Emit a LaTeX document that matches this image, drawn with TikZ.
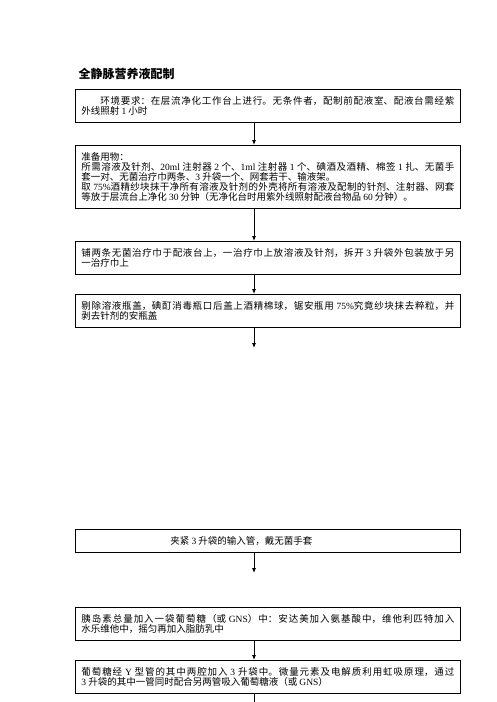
\documentclass[tikz,border=0pt]{standalone}
\usepackage{fontspec}
\setmainfont{Noto Sans CJK SC}
\newfontfamily\enfont{Liberation Serif}
\newcommand{\en}[1]{{\enfont #1}}
\newcommand{\boxfont}{\fontsize{9.5}{10}\selectfont\lineskiplimit=-10pt\relax}
\usepackage{tikz}
\usetikzlibrary{arrows.meta, positioning}
\XeTeXlinebreaklocale "zh"
\XeTeXlinebreakskip=0pt plus 1.5pt
\tolerance=9999

\begin{document}
\begin{tikzpicture}[
            x=1pt, y=-1pt,
            stepbox/.style={draw, line width=0.8pt, anchor=north west, text width=373pt,
                inner xsep=6pt, inner ysep=7pt, align=justify, font=\boxfont},
            flow/.style={->, line width=0.8pt},
            >={Latex[length=5pt, width=4pt]}
        ]
        \useasboundingbox (0,0) rectangle (496,702);

        \coordinate (axis) at (254,0);
        \coordinate (e1) at (254,348);
        \coordinate (e2) at (254,573);
        \coordinate (e3) at (254,702);

        \node[anchor=base west, font=\fontsize{12}{12}\selectfont\bfseries] (title) at (75,78) {全静脉营养液配制};

        \node[stepbox] (env) at (75,89) {\hspace*{2em}环境要求：在层流净化工作台上进行。无条件者，配制前配液室、配液台需经紫\linebreak 外线照射 \en{1} 小时};
        \node[stepbox] (prep) at (75,145) {准备用物：\\ 所需溶液及针剂、\en{20ml} 注射器 \en{2} 个、\en{1ml} 注射器 \en{1} 个、碘酒及酒精、棉签 \en{1} 扎、无菌手\linebreak 套一对、无菌治疗巾两条、\en{3} 升袋一个、网套若干、输液架。\\ 取 \en{75\%}酒精纱块抹干净所有溶液及针剂的外壳将所有溶液及配制的针剂、注射器、网套\linebreak 等放于层流台上净化 \en{30} 分钟（无净化台时用紫外线照射配液台物品 \en{60} 分钟）。};
        \node[stepbox] (lay) at (75,241) {铺两条无菌治疗巾于配液台上，一治疗巾上放溶液及针剂，拆开 \en{3} 升袋外包装放于另\linebreak 一治疗巾上};
        \node[stepbox] (open) at (75,294) {剔除溶液瓶盖，碘酊消毒瓶口后盖上酒精棉球，锯安瓶用 \en{75\%}究竟纱块抹去粹粒，并\linebreak 剥去针剂的安瓶盖};
        \node[stepbox] (clamp) at (75,529) {\hspace*{89pt}夹紧 \en{3} 升袋的输入管，戴无菌手套};
        \node[stepbox] (add) at (75,607) {胰岛素总量加入一袋葡萄糖（或 \en{GNS}）中：安达美加入氨基酸中，维他利匹特加入\linebreak 水乐维他中，摇匀再加入脂肪乳中};
        \node[stepbox] (mix) at (75,660) {葡萄糖经 \en{Y} 型管的其中两腔加入 \en{3} 升袋中。微量元素及电解质利用虹吸原理，通过\linebreak \en{3} 升袋的其中一管同时配合另两管吸入葡萄糖液（或 \en{GNS}）};

        \foreach \From/\To in {env/prep, prep/lay, lay/open, add/mix}
            \draw[flow] (\From.south -| axis) -- (\To.north -| axis);
        \foreach \From/\To in {open/e1, clamp/e2}
            \draw[flow] (\From.south -| axis) -- (\To);
        \draw[line width=0.8pt] (mix.south -| axis) -- (e3);
    \end{tikzpicture}
\end{document}
